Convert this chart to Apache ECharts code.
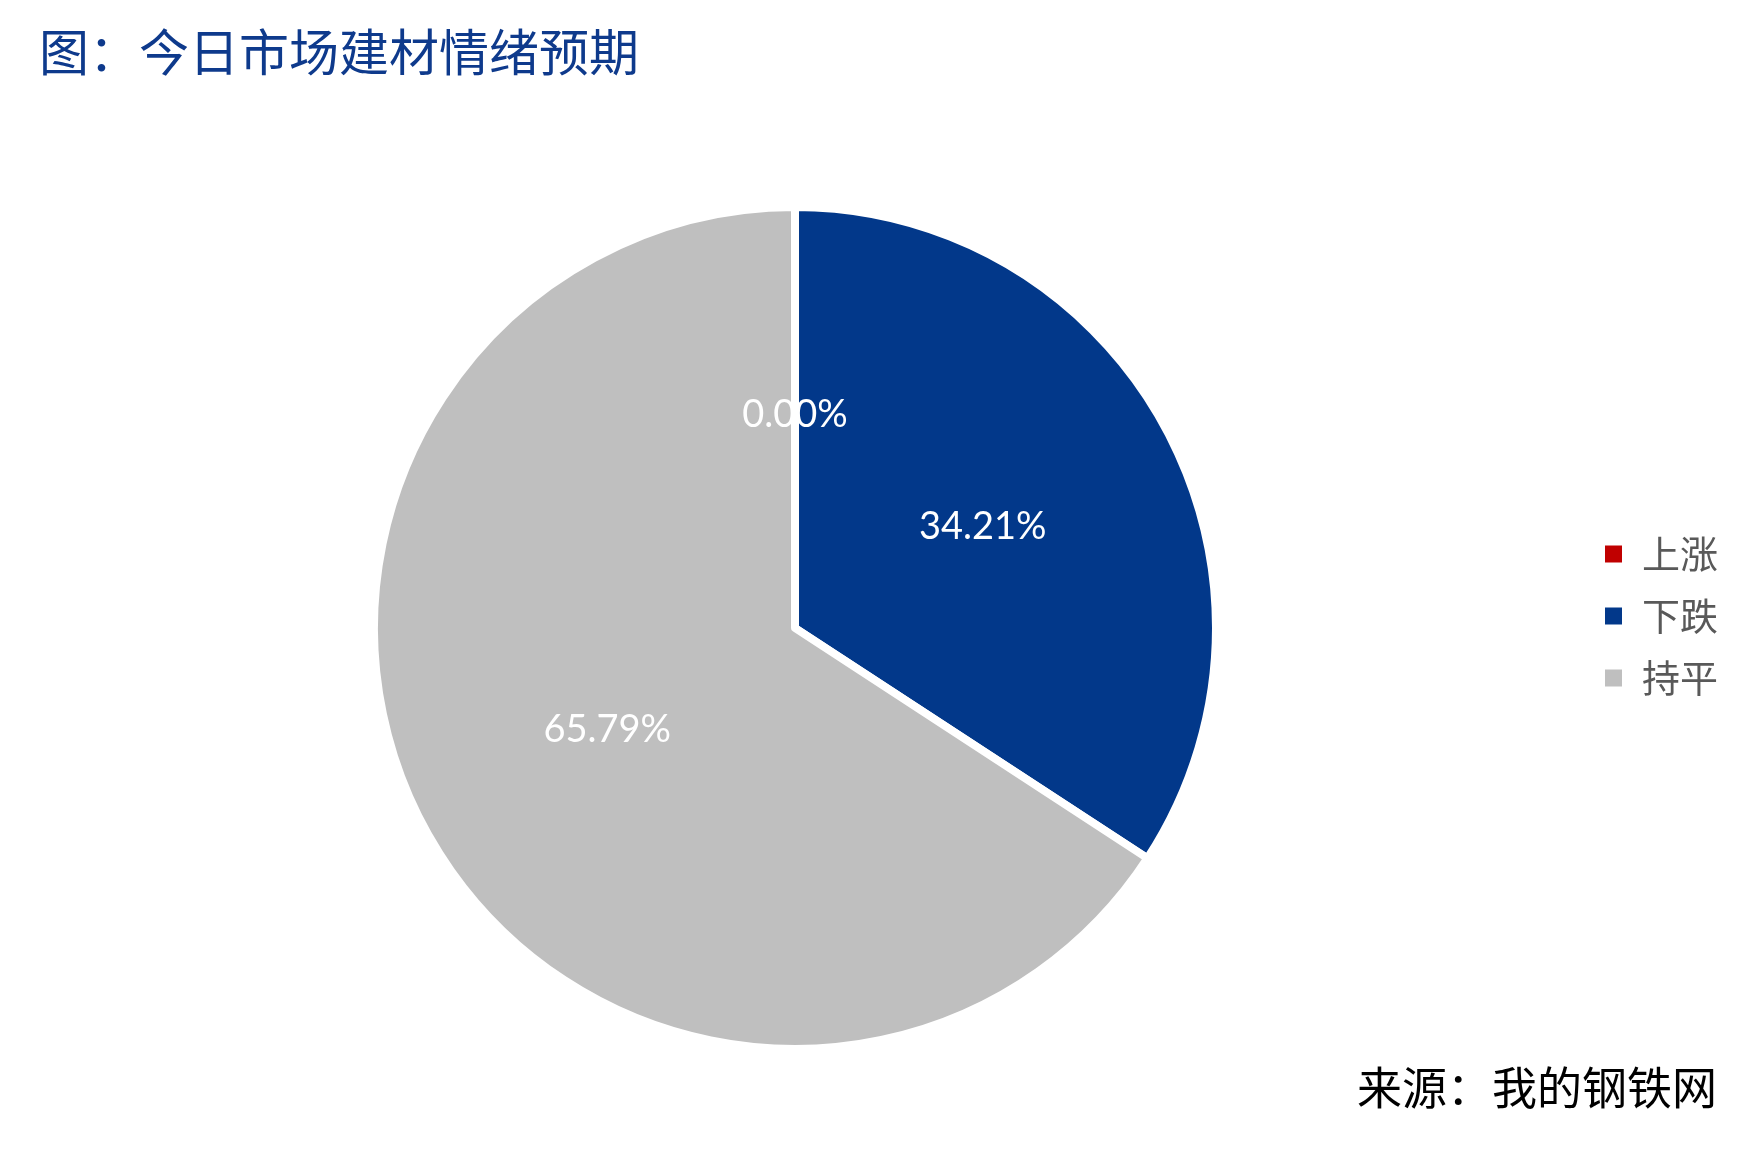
<!DOCTYPE html>
<html>
<head>
<meta charset="utf-8">
<script src="https://cdn.jsdelivr.net/npm/echarts@6/dist/echarts.min.js"></script>
<style>
	html, body { margin: 0; padding: 0; background: #fff; }
	#chart { width: 1764px; height: 1166px; }
</style>
</head>
<body>
<div id="chart"></div>
<script type="text/javascript">
	// 数据：上涨/下跌/持平 家数
	var categories = ['上涨', '下跌', '持平'];
	var counts = [0, 13, 25];
	var colors = ['#c00000', '#02388a', '#bfbfbf'];

	var pieData = [];
	for (var i = 0; i < categories.length; i++) {
		pieData.push({ name: categories[i], value: counts[i], itemStyle: { color: colors[i] } });
	}

	var myChart = echarts.init(document.getElementById('chart'));
	var option = {
		backgroundColor: '#ffffff',
		animation: false,
		title: [{
			text: '图：今日市场建材情绪预期',
			left: 34,
			top: 22,
			textStyle: { fontFamily: 'Noto Sans CJK SC', fontSize: 50, fontWeight: 'normal', color: '#0e3a8c' }
		}, {
			text: '来源：我的钢铁网',
			right: 42,
			top: 1060,
			textStyle: { fontFamily: 'Noto Sans CJK SC', fontSize: 45, fontWeight: 'normal', color: '#000' }
		}],
		legend: {
			orient: 'vertical',
			left: 1598,
			top: 530,
			itemWidth: 19,
			itemHeight: 19,
			itemGap: 24,
			icon: 'rect',
			data: categories,
			textStyle: { fontFamily: 'Noto Sans CJK SC', fontSize: 38, color: '#595959', padding: [0, 0, 0, 14] }
		},
		series: [{
			type: 'pie',
			center: [795, 628],
			radius: 421,
			startAngle: 90,
			clockwise: true,
			data: pieData,
			itemStyle: { borderColor: '#ffffff', borderWidth: 8 },
			label: {
				show: true,
				position: 'inside',
				formatter: function (p) { return p.percent.toFixed(2) + '%'; },
				fontFamily: 'Lato',
				fontSize: 38,
				color: '#ffffff'
			},
			labelLine: { show: false },
			emphasis: { disabled: true }
		}]
	};
	myChart.setOption(option);
</script>
</body>
</html>
